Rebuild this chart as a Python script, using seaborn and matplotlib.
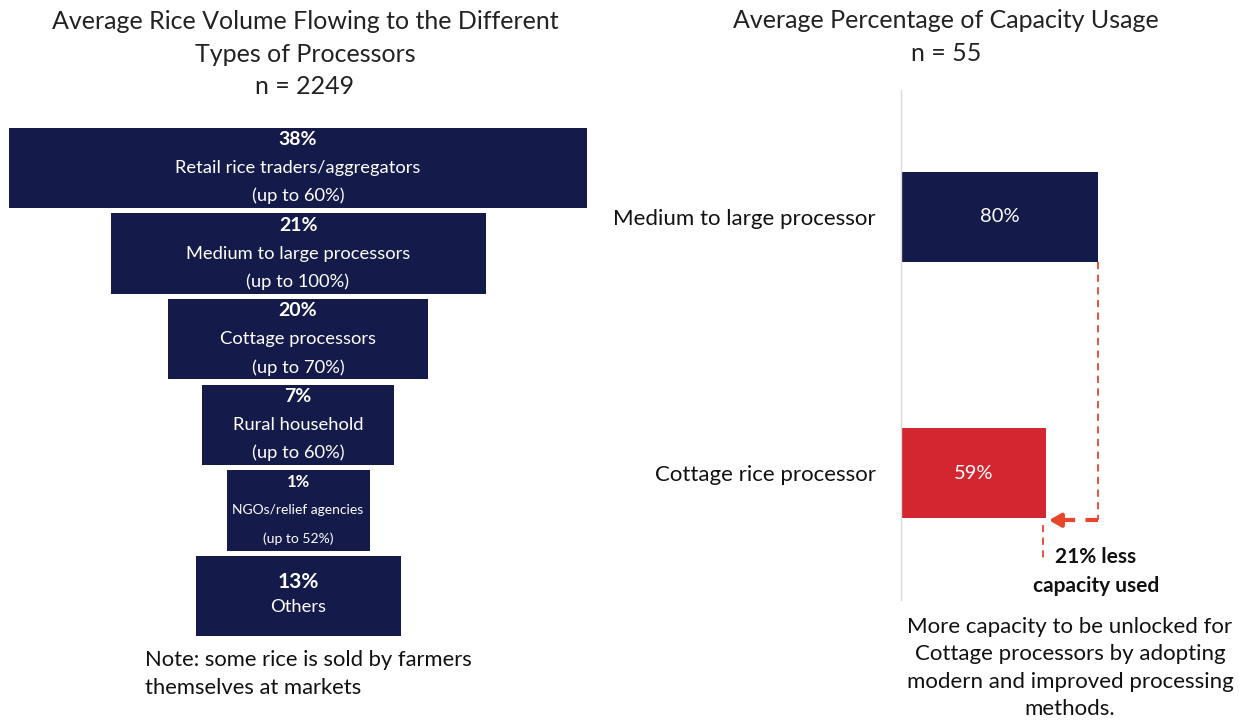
import matplotlib
matplotlib.use("Agg")
import matplotlib.pyplot as plt
import seaborn as sns
import pandas as pd

# funnel data (left panel)
funnel_names = ["Retail rice traders/aggregators", "Medium to large processors", "Cottage processors",
                "Rural household", "NGOs/relief agencies", "Others"]
funnel_pcts = [38, 21, 20, 7, 1, 13]
funnel_caps = ["(up to 60%)", "(up to 100%)", "(up to 70%)", "(up to 60%)", "(up to 52%)", ""]
funnel_widths = [578, 375, 260, 192, 143, 205]  # drawn width of each funnel step

# capacity data (right panel)
capacity_labels = ["Medium to large processor", "Cottage rice processor"]
capacity_values = [80, 59]

NAVY = "#141B4A"
RED = "#D22630"
ORANGE = "#E8452C"
W, H = 1239, 720

sns.set_style("white")
plt.rcParams["font.family"] = ["Lato", "DejaVu Sans"]

fig = plt.figure(figsize=(W / 100, H / 100), dpi=100)


def fx(px):
    return px / W


def fy(py):
    return 1 - py / H


# ---- left: funnel ----
ax1 = fig.add_axes([fx(0), fy(639), fx(600), (639 - 125) / H])
df_f = pd.DataFrame({"name": funnel_names, "width": funnel_widths})
sns.barplot(data=df_f, x="width", y="name", orient="h", color=NAVY, width=0.935, ax=ax1,
            saturation=1, linewidth=0)
# center every step of the funnel
for patch in ax1.patches:
    patch.set_x(-patch.get_width() / 2)
ax1.set_xlim(-298, 302)
ax1.set_ylim(5.5, -0.5)
ax1.axis("off")

for i, (name, pct, cap, w) in enumerate(zip(funnel_names, funnel_pcts, funnel_caps, funnel_widths)):
    small = w < 150
    fs = 10 if small else 13.2
    if cap:
        ax1.text(0, i - 0.33, f"{pct}%", color="white", ha="center", va="center",
                 fontsize=12 if small else 14, fontweight="bold")
        ax1.text(0, i + 0.0, name, color="white", ha="center", va="center", fontsize=fs)
        ax1.text(0, i + 0.33, cap, color="white", ha="center", va="center", fontsize=fs)
    else:
        ax1.text(0, i - 0.16, f"{pct}%", color="white", ha="center", va="center", fontsize=15, fontweight="bold")
        ax1.text(0, i + 0.13, name, color="white", ha="center", va="center", fontsize=fs)

fig.text(fx(305), fy(54), "Average Rice Volume Flowing to the Different\nTypes of Processors\nn = 2249",
         ha="center", va="center", fontsize=18, linespacing=1.49, color="#222222")
fig.text(fx(145), fy(674), "Note: some rice is sold by farmers\nthemselves at markets",
         ha="left", va="center", fontsize=15.8, linespacing=1.45, color="#111111")

# ---- right: capacity bars ----
scale = 2.46  # px per percent
ax2 = fig.add_axes([fx(901), fy(600), fx(W - 901), (600 - 90) / H])
df_c = pd.DataFrame({"label": capacity_labels, "value": capacity_values})
sns.barplot(data=df_c, x="value", y="label", hue="label", palette=[NAVY, RED], orient="h",
            width=0.35, ax=ax2, legend=False, saturation=1, linewidth=0)
ax2.set_xlim(0, (W - 901) / scale)
ax2.set_ylim(1.494, -0.494)
ax2.set_xlabel("")
ax2.set_ylabel("")
ax2.set_xticks([])
for s in ["top", "right", "bottom"]:
    ax2.spines[s].set_visible(False)
ax2.spines["left"].set_color("#D9D9D9")
ax2.spines["left"].set_linewidth(1)
ax2.tick_params(axis="y", length=0, pad=18, labelsize=16, labelcolor="#111111")

for i, v in enumerate(capacity_values):
    ax2.text(v / 2, i, f"{v}%", color="white", ha="center", va="center", fontsize=14.5)

# annotation of the gap
top_v, low_v = capacity_values
y_arrow = 1.183
ax2.plot([top_v, top_v], [0.175, y_arrow], ls=(0, (4, 3)), color=ORANGE, lw=1.3)
ax2.plot([top_v, low_v + 5], [y_arrow, y_arrow], ls=(0, (3, 2.5)), color=ORANGE, lw=3)
ax2.annotate("", xy=(low_v, y_arrow), xytext=(low_v + 6, y_arrow),
             arrowprops=dict(arrowstyle="-|>,head_length=0.7,head_width=0.4", color=ORANGE, lw=3))
ax2.plot([low_v - 1.2, low_v - 1.2], [y_arrow + 0.02, 1.335], ls=(0, (4, 3)), color=ORANGE, lw=1.3)
ax2.text(79.2, 1.383, "21% less\ncapacity used", ha="center", va="center", fontsize=15,
         fontweight="bold", linespacing=1.55, color="#111111")

fig.text(fx(946), fy(37), "Average Percentage of Capacity Usage\nn = 55",
         ha="center", va="center", fontsize=18, linespacing=1.49, color="#222222")
fig.text(fx(1070), fy(668), "More capacity to be unlocked for\nCottage processors by adopting\nmodern and improved processing\nmethods.",
         ha="center", va="center", fontsize=16, linespacing=1.45, color="#111111")

fig.savefig("out.png", dpi=100)
